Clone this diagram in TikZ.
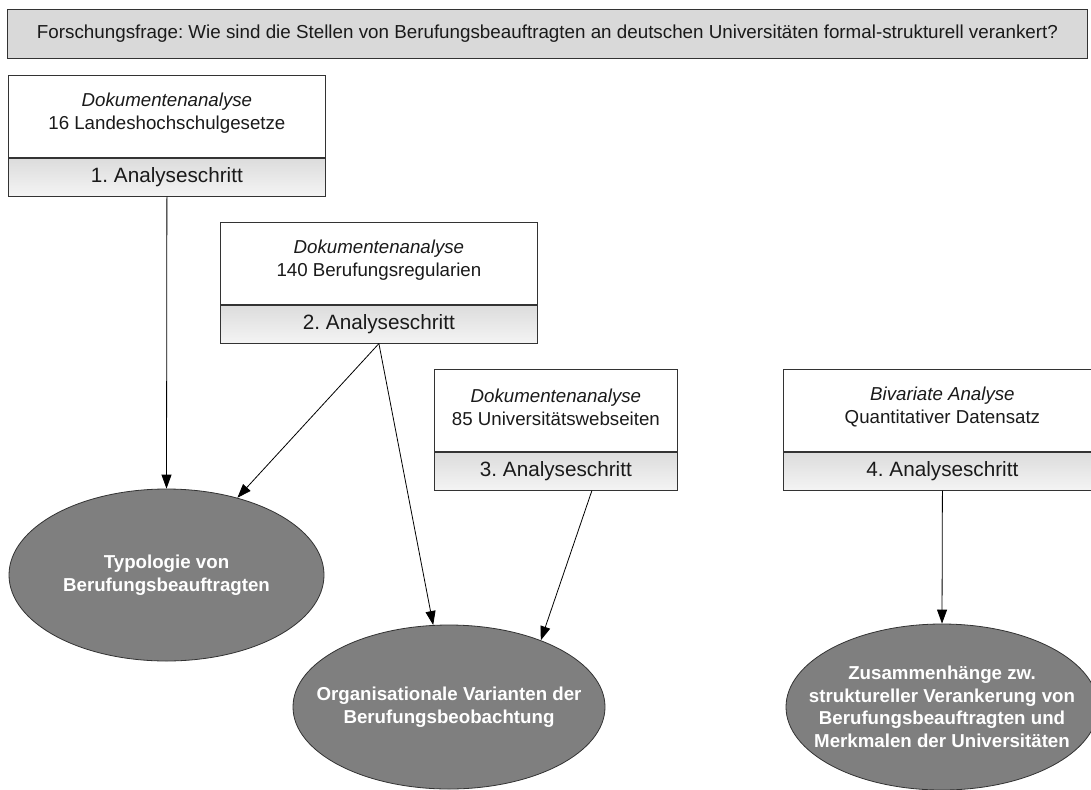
\documentclass[tikz,border=0pt]{standalone}
\usepackage{fontspec}
\setmainfont{Liberation Sans}
\usetikzlibrary{arrows.meta,shapes.geometric}
\definecolor{topfill}{HTML}{D9D9D9}
\definecolor{edge}{HTML}{333333}
\definecolor{ellfill}{HTML}{7F7F7F}
\definecolor{bandtop}{HTML}{DCDCDC}
\definecolor{bandbot}{HTML}{F4F4F4}
\definecolor{ink}{HTML}{1A1A1A}
\frenchspacing
\begin{document}
\begin{tikzpicture}[x=1pt,y=-1pt,
  question/.style={draw=edge, line width=0.9pt, fill=topfill, minimum width=1080pt, minimum height=49pt, inner sep=0pt, anchor=north west},
  upper/.style={draw=edge, line width=0.8pt, fill=white, minimum height=82pt, inner sep=0pt, anchor=north west},
  uppertext/.style={text=ink, align=center, font=\fontsize{18.7}{23}\selectfont, inner sep=0pt},
  band/.style={draw=edge, line width=0.8pt, top color=bandtop, bottom color=bandbot, minimum height=38pt, text=ink, font=\fontsize{20.7}{24}\selectfont, inner sep=0pt, anchor=north},
  result/.style={ellipse, draw=edge, line width=0.8pt, fill=ellfill, inner sep=0pt},
  restext/.style={text=white, font=\bfseries\fontsize{18.7}{22.5}\selectfont, align=center, inner sep=0pt},
  link/.style={-{Triangle[length=14pt,width=10pt]}, line width=0.8pt}
]
\useasboundingbox (0,0) rectangle (1091,789);
\clip (0,0) rectangle (1091,789);

\node[question] (q) at (7,9) {};
\node[text=ink, font=\fontsize{18.8}{22}\selectfont] (qt) at (q.center) {Forschungsfrage: Wie sind die Stellen von Berufungsbeauftragten an deutschen Universitäten formal-strukturell verankert?};

% Box 1
\node[upper, minimum width=317pt] (b1u) at (8,75) {};
\node[uppertext] (b1t) at ([yshift=3pt]b1u.center) {\textit{Dokumentenanalyse}\\16 Landeshochschulgesetze};
\node[band, minimum width=317pt] (b1) at (b1u.south) {1. Analyseschritt};
% Box 2
\node[upper, minimum width=317pt] (b2u) at (220,222) {};
\node[uppertext] (b2t) at ([yshift=3pt]b2u.center) {\textit{Dokumentenanalyse}\\140 Berufungsregularien};
\node[band, minimum width=317pt] (b2) at (b2u.south) {2. Analyseschritt};
% Box 3
\node[upper, minimum width=243pt] (b3u) at (434,369) {};
\node[uppertext] (b3t) at ([yshift=3pt]b3u.center) {\textit{Dokumentenanalyse}\\85 Universitätswebseiten};
\node[band, minimum width=243pt] (b3) at (b3u.south) {3. Analyseschritt};
% Box 4
\node[upper, minimum width=318pt] (b4u) at (783,369) {};
\node[uppertext] (b4t) at ([yshift=3pt]b4u.center) {\textit{Bivariate Analyse}\\Quantitativer Datensatz};
\node[band, minimum width=318pt] (b4) at (b4u.south) {4. Analyseschritt};

% Results
\node[result, minimum width=315pt, minimum height=172pt] (e1) at (166.5,575) {};
\node[restext] (e1t) at (e1.center) {Typologie von\\Berufungsbeauftragten};
\node[result, minimum width=312pt, minimum height=164pt] (e2) at (449,707) {};
\node[restext] (e2t) at (e2.center) {Organisationale Varianten der\\Berufungsbeobachtung};
\node[result, minimum width=312pt, minimum height=166pt] (e3) at (942,707) {};
\node[restext] (e3t) at (e3.center) {Zusammenhänge zw.\\struktureller Verankerung von\\Berufungsbeauftragten und\\Merkmalen der Universitäten};

% Connectors
\draw[link] (b1.south) -- (e1.north);
\draw[link] (b2.south) -- (e1);
\draw[link] (b2.south) -- (e2);
\draw[link] ([xshift=36pt]b3.south) -- (e2.36);
\draw[link] (b4.south) -- (e3.north);
\end{tikzpicture}
\end{document}
